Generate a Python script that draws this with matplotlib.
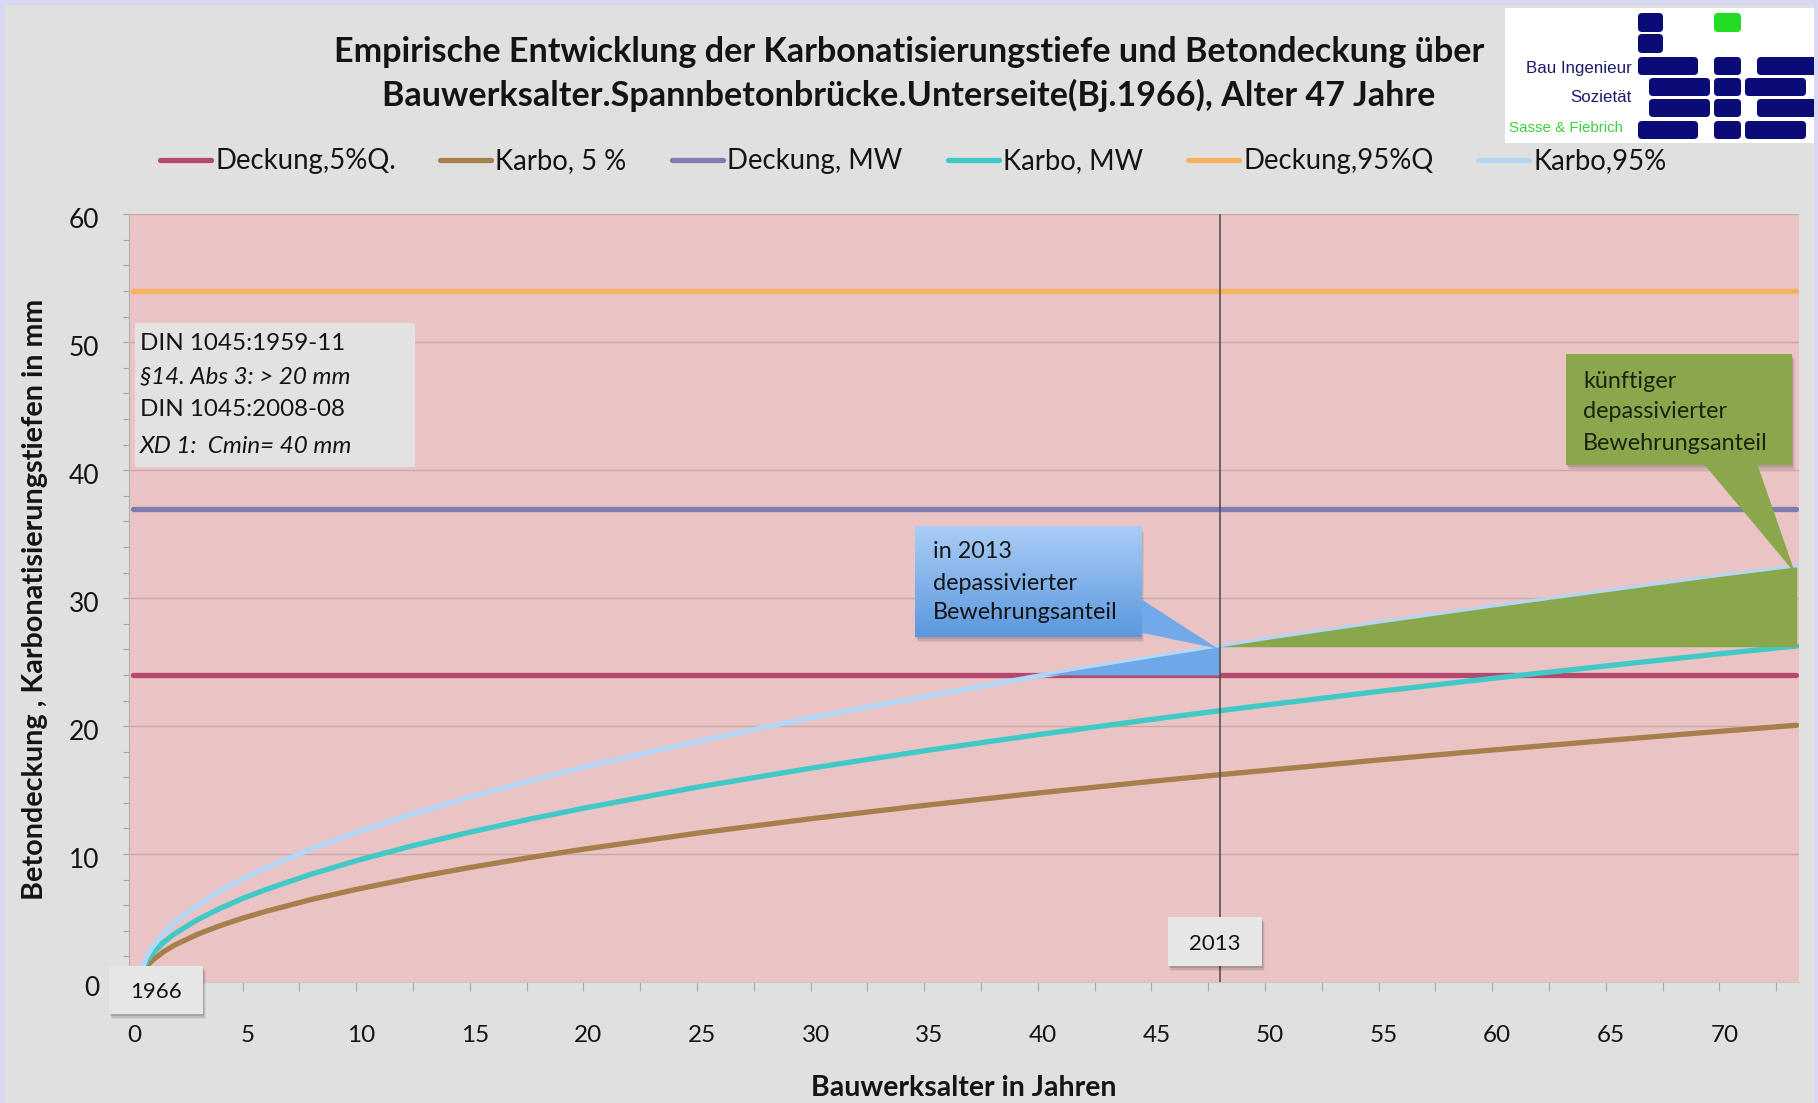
import numpy as np
import matplotlib
matplotlib.use("Agg")
import matplotlib.pyplot as plt
import matplotlib.transforms as mtransforms
from matplotlib.patches import Rectangle, Polygon, FancyBboxPatch
from matplotlib.lines import Line2D
from matplotlib.ticker import MultipleLocator, NullFormatter
from matplotlib.colors import LinearSegmentedColormap

plt.rcParams['font.family'] = ['Lato', 'DejaVu Sans']

# ---------------------------------------------------------------- data
# Bauwerksalter (x-Achse) und Karbonatisierungstiefen in mm
alter = np.array([0.5, 0.6, 0.75, 1, 1.5, 2, 3, 4, 5, 6, 8, 10, 12.5, 15, 17.5,
                  20, 25, 30, 35, 40, 45, 48, 50, 55, 60, 65, 70, 73.4])
karbo_5 = np.array([0, 0.74, 1.18, 1.66, 2.35, 2.88, 3.72, 4.4, 4.99, 5.51, 6.44,
                    7.24, 8.14, 8.95, 9.69, 10.38, 11.63, 12.76, 13.8, 14.77,
                    15.68, 16.2, 16.53, 17.35, 18.13, 18.87, 19.59, 20.07])
karbo_mw = np.array([0, 0.97, 1.54, 2.18, 3.08, 3.77, 4.86, 5.75, 6.53, 7.21, 8.42,
                     9.48, 10.66, 11.71, 12.68, 13.58, 15.23, 16.71, 18.07, 19.33,
                     20.52, 21.2, 21.64, 22.71, 23.73, 24.7, 25.65, 26.26])
karbo_95 = np.array([0, 1.2, 1.9, 2.7, 3.8, 4.65, 6.0, 7.1, 8.05, 8.9, 10.4, 11.7,
                     13.15, 14.45, 15.65, 16.8, 18.8, 20.65, 22.3, 23.9, 25.35,
                     26.2, 26.75, 28.05, 29.3, 30.5, 31.7, 32.45])

# Betondeckung in mm (Quantile und Mittelwert), konstant über das Alter
deckung_alter = [0.15, 73.35]
deckung_5 = 24
deckung_mw = 37
deckung_95 = 54

# Zeitpunkt der Untersuchung (2013) auf der Altersachse
alter_2013 = 48
jahr_start_label = "1966"
jahr_2013_label = "2013"

x_tick_labels = [0, 5, 10, 15, 20, 25, 30, 35, 40, 45, 50, 55, 60, 65, 70]
y_tick_labels = [0, 10, 20, 30, 40, 50, 60]

legend_labels = ["Deckung,5%Q.", "Karbo, 5 %", "Deckung, MW",
                 "Karbo, MW", "Deckung,95%Q", "Karbo,95%"]

title_lines = ["Empirische Entwicklung der Karbonatisierungstiefe und Betondeckung über",
               "Bauwerksalter.Spannbetonbrücke.Unterseite(Bj.1966), Alter 47 Jahre"]

din_lines = [("DIN 1045:1959-11", "normal"),
             ("§14. Abs 3: > 20 mm", "italic"),
             ("DIN 1045:2008-08", "normal"),
             ("XD 1:  Cmin= 40 mm", "italic")]
callout_2013 = ["in 2013", "depassivierter", "Bewehrungsanteil"]
callout_future = ["künftiger", "depassivierter", "Bewehrungsanteil"]

# ---------------------------------------------------------------- style
C_D5 = '#b4486f'
C_K5 = '#a67f4d'
C_DMW = '#7f7dae'
C_KMW = '#40c9c6'
C_D95 = '#f7b25f'
C_K95 = '#b4d5f3'
colors = [C_D5, C_K5, C_DMW, C_KMW, C_D95, C_K95]
LW = 3.8
BG = '#e0e0e0'
PLOT_BG = '#eac4c4'
TXT = '#141414'

W, H = 1818, 1103
fig = plt.figure(figsize=(W / 100, H / 100), dpi=100, facecolor=BG)
# pixel coordinates measured from the top-left corner of the figure
px = mtransforms.Affine2D().scale(1 / W, -1 / H).translate(0, 1) + fig.transFigure

AX_L, AX_R, AX_T, AX_B = 129.1, 1799.0, 214.3, 982.0
ax = fig.add_axes([AX_L / W, (H - AX_B) / H, (AX_R - AX_L) / W, (AX_B - AX_T) / H])
ax.set_facecolor(PLOT_BG)

# grid lines (major y)
for yv in y_tick_labels[1:]:
    ax.axhline(yv, color='#c8a9a9', lw=1.0, zorder=1)

# cover lines
for yv, c in [(deckung_5, C_D5), (deckung_mw, C_DMW), (deckung_95, C_D95)]:
    ax.plot(deckung_alter, [yv, yv], color=c, lw=LW, solid_capstyle='round', zorder=2)

# carbonation curves
ax.plot(alter, karbo_5, color=C_K5, lw=LW, solid_capstyle='round', zorder=2)
ax.plot(alter, karbo_mw, color=C_KMW, lw=LW, solid_capstyle='round', zorder=2)
ax.plot(alter, karbo_95, color=C_K95, lw=LW, solid_capstyle='round', zorder=2.2)

# depassivated share in 2013: Karbo 95% above cover 5% quantile
m = (alter >= 40) & (alter <= alter_2013)
ax.fill_between(alter[m], karbo_95[m], deckung_5, where=karbo_95[m] >= deckung_5,
                interpolate=True, color='#6ea8e8', lw=0, zorder=2.5)

# future depassivated share: growth of Karbo 95% beyond its 2013 value
m2 = alter >= alter_2013
k95_2013 = karbo_95[alter == alter_2013][0]
ax.fill_between(alter[m2], karbo_95[m2], k95_2013, color='#8aa84b', lw=0, zorder=2.5)

# vertical marker for 2013
ax.axvline(alter_2013, color='#4a4a4a', lw=1.1, zorder=3.5)

# ---------------------------------------------------------------- callouts
def shadow_rect(x0, y0, w, h, zorder):
    for off, a in [(5, 0.06), (3.5, 0.08), (2, 0.10)]:
        tr = mtransforms.offset_copy(ax.transData, fig=fig, x=off * 0.6, y=-off, units='dots')
        ax.add_patch(Rectangle((x0, y0), w, h, transform=tr, color='k', alpha=a,
                               lw=0, zorder=zorder))

# blue callout (2013)
bx0, bx1, by0, by1 = 34.59, 44.54, 26.96, 35.56
ax.add_patch(Polygon([(44.3, 30.2), (44.54, 30.2), (44.54, 27.3), (47.93, 26.05)],
                     closed=True, color='#72aae9', lw=0, zorder=4.8))
shadow_rect(bx0, by0, bx1 - bx0, by1 - by0, 4.7)
grad = np.linspace(0, 1, 256).reshape(-1, 1)
cmap_blue = LinearSegmentedColormap.from_list('b', ['#5a98de', '#aacdf6'])
ax.imshow(grad, extent=[bx0, bx1, by0, by1], origin='lower', aspect='auto',
          cmap=cmap_blue, zorder=5, interpolation='bilinear')
callout_texts = []
for s, yv in zip(callout_2013, [33.61, 31.18, 28.84]):
    callout_texts.append(ax.text(35.38, yv, s, color=TXT, fontsize=16.5, va='center',
                                 ha='left', zorder=6))

# green callout (future)
gx0, gx1, gy0, gy1 = 63.24, 73.19, 40.39, 49.06
ax.add_patch(Polygon([(69.26, 40.6), (71.64, 40.6), (73.33, 31.95)], closed=True,
                     color='#8aa84b', lw=0, zorder=4.8))
shadow_rect(gx0, gy0, gx1 - gx0, gy1 - gy0, 4.7)
ax.add_patch(Rectangle((gx0, gy0), gx1 - gx0, gy1 - gy0, color='#8aa84b', lw=0, zorder=5))
for s, yv in zip(callout_future, [46.95, 44.55, 42.05]):
    callout_texts.append(ax.text(63.99, yv, s, color='#1c2210', fontsize=16.5, va='center',
                                 ha='left', zorder=6))

# DIN box
ax.add_patch(Rectangle((0.26, 40.25), 12.32, 11.25, color='#e2e2e2', lw=0, zorder=5))
din_texts = []
for (s, st), yv in zip(din_lines, [49.94, 47.28, 44.78, 41.89]):
    din_texts.append(ax.text(0.48, yv, s, style=st, color=TXT, fontsize=18,
                             va='center', ha='left', zorder=6))

# ---------------------------------------------------------------- axes
ax.set_xlim(0, 73.5)
ax.set_ylim(0, 60)
for sp in ['top', 'right']:
    ax.spines[sp].set_visible(False)
ax.spines['left'].set_color('#b0b0b0')
ax.spines['bottom'].set_color('#c8c8c8')
ax.spines['left'].set_linewidth(0.8)
ax.spines['bottom'].set_linewidth(0.8)
ax.xaxis.set_major_locator(MultipleLocator(5))
ax.xaxis.set_minor_locator(MultipleLocator(2.5))
ax.yaxis.set_major_locator(MultipleLocator(10))
ax.yaxis.set_minor_locator(MultipleLocator(2))
ax.xaxis.set_major_formatter(NullFormatter())
ax.yaxis.set_major_formatter(NullFormatter())
ax.tick_params(axis='x', which='both', length=6.5, width=0.8, color='#a8a8a8', direction='out')
ax.tick_params(axis='y', which='both', length=4.3, width=0.8, color='#a8a8a8', direction='out')

xt = mtransforms.blended_transform_factory(ax.transData, ax.transAxes)
yt = mtransforms.blended_transform_factory(ax.transAxes, ax.transData)
for v in x_tick_labels:
    ax.text(v, 0, f"{v}", transform=xt + mtransforms.ScaledTranslation(5 / 100, -60 / 100, fig.dpi_scale_trans),
            ha='center', va='baseline', fontsize=17.5, color=TXT, clip_on=False)
for v in y_tick_labels:
    ax.text(0, v, f"{v}", transform=yt + mtransforms.ScaledTranslation(-30 / 100, -14 / 100, fig.dpi_scale_trans),
            ha='right', va='baseline', fontsize=19, color=TXT, clip_on=False)

# year boxes
def year_box(x0, y0, x1, y1, label, zorder=7):
    for off, a in [(5, 0.06), (3.5, 0.09), (2, 0.12)]:
        fig.add_artist(Rectangle((x0 + off * 0.6, y0 + off), x1 - x0, y1 - y0, transform=px,
                                 color='k', alpha=a, lw=0, zorder=zorder - 0.1))
    fig.add_artist(Rectangle((x0, y0), x1 - x0, y1 - y0, transform=px, color='#e6e6e6',
                             lw=0, zorder=zorder))
    fig.text((x0 + x1) / 2, y1 - (y1 - y0) / 2 + 8, label, transform=px, ha='center',
             va='baseline', fontsize=16, color=TXT, zorder=zorder + 0.1)

year_box(109, 966, 203, 1014, jahr_start_label)
year_box(1168, 917, 1262, 966, jahr_2013_label)

# axis labels
ylab = fig.text(35, 599, "Betondeckung , Karbonatisierungstiefen in mm", transform=px,
                rotation=90, ha='center', va='center', fontsize=19, fontweight='bold', color=TXT)
xlab = fig.text(964, 1088, "Bauwerksalter in Jahren", transform=px, ha='center',
                va='center', fontsize=19, fontweight='bold', color=TXT)

# title
t1 = fig.text(909, 52, title_lines[0], transform=px, ha='center', va='center',
              fontsize=22, fontweight='bold', color=TXT)
t2 = fig.text(909, 95, title_lines[1], transform=px, ha='center', va='center',
              fontsize=22, fontweight='bold', color=TXT)

# legend
leg_line_x = [160, 440, 672, 948, 1188, 1478]
leg_texts = []
for xl, lab, c in zip(leg_line_x, legend_labels, colors):
    fig.add_artist(Line2D([xl, xl + 51], [160, 160], transform=px, color=c, lw=LW,
                          solid_capstyle='round'))
    leg_texts.append(fig.text(xl + 55, 161, lab, transform=px, ha='left', va='center',
                              fontsize=20, color=TXT))

# logo
fig.add_artist(Rectangle((1505, 8), 313, 135, transform=px, color='white', lw=0, zorder=1))
navy = '#0b0b78'
blocks = [(1638, 13, 1663, 32), (1638, 34, 1663, 53),
          (1638, 57, 1698, 75), (1714, 57, 1741, 75), (1757, 57, 1818, 75),
          (1649, 78, 1710, 96), (1714, 78, 1741, 96), (1745, 78, 1806, 96),
          (1649, 99, 1710, 117), (1714, 99, 1741, 117), (1757, 99, 1818, 117),
          (1638, 121, 1698, 139), (1714, 121, 1741, 139), (1745, 121, 1806, 139)]
for (x0, y0, x1, y1) in blocks:
    fig.add_artist(FancyBboxPatch((x0, y0), x1 - x0, y1 - y0, boxstyle="round,pad=0,rounding_size=4",
                                  transform=px, color=navy, lw=0, zorder=2))
fig.add_artist(FancyBboxPatch((1714, 13), 27, 19, boxstyle="round,pad=0,rounding_size=4",
                              transform=px, color='#22dd22', lw=0, zorder=2))
logo_font = ['Liberation Sans Narrow', 'Liberation Sans', 'DejaVu Sans']
lg1 = fig.text(1632, 68, "Bau Ingenieur", transform=px, ha='right', va='center',
               fontsize=12, color='#1c1c6a', family=logo_font, zorder=3)
lg2 = fig.text(1632, 97, "Sozietät", transform=px, ha='right', va='center',
               fontsize=12, color='#1c1c6a', family=logo_font, zorder=3)
lg3 = fig.text(1509, 128, "Sasse & Fiebrich", transform=px, ha='left', va='center',
               fontsize=12, color='#3fcf3f', family=logo_font, zorder=3)

# frame around the slide
lav = '#d8d8f2'
fig.add_artist(Rectangle((0, 0), W, 5, transform=px, color=lav, lw=0, zorder=3))
fig.add_artist(Rectangle((0, 0), 5, H, transform=px, color=lav, lw=0, zorder=3))
fig.add_artist(Rectangle((1814, 0), 4, H, transform=px, color=lav, lw=0, zorder=3))

# scale text to the measured extents
renderer = fig.canvas.get_renderer()

def fit(t, size_px, vertical=False):
    bb = t.get_window_extent(renderer)
    cur = bb.height if vertical else bb.width
    t.set_fontsize(t.get_fontsize() * size_px / cur)
    return t.get_fontsize()

fit(t1, 1150)
fit(t2, 1050)
fit(ylab, 599, vertical=True)
fit(xlab, 305)
s = fit(leg_texts[0], 181)
for t in leg_texts:
    t.set_fontsize(s)
s = fit(din_texts[0], 205)
for t in din_texts:
    t.set_fontsize(s)
s = fit(callout_texts[2], 185)
for t in callout_texts:
    t.set_fontsize(s)
s = fit(lg1, 106)
lg2.set_fontsize(s)
fit(lg3, 114)

fig.savefig("out.png", dpi=100, facecolor=BG)
